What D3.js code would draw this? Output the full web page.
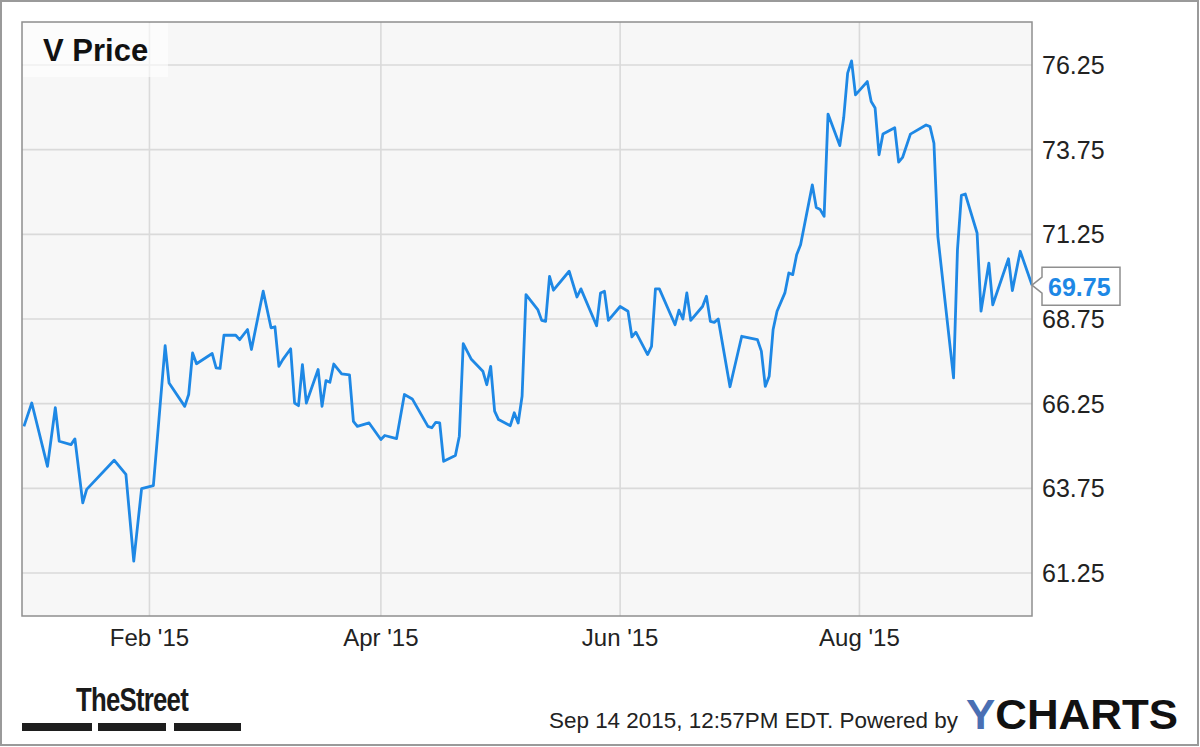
<!DOCTYPE html>
<html><head><meta charset="utf-8">
<script src="https://cdn.jsdelivr.net/npm/d3@7"></script>
<style>html,body{margin:0;padding:0;background:#fff;} svg{display:block;font-family:"Liberation Sans",Arial,Helvetica,sans-serif;}</style>
</head><body><svg id="c" width="1200" height="747"></svg>
<script>
const dates = ["2014-12-31","2015-01-02","2015-01-06","2015-01-08","2015-01-09","2015-01-12","2015-01-13","2015-01-15","2015-01-16","2015-01-23","2015-01-26","2015-01-28","2015-01-30",
"2015-02-02","2015-02-05","2015-02-06","2015-02-10","2015-02-11","2015-02-12","2015-02-13","2015-02-17","2015-02-18","2015-02-19","2015-02-20","2015-02-23","2015-02-24","2015-02-26","2015-02-27",
"2015-03-02","2015-03-04","2015-03-05","2015-03-06","2015-03-07","2015-03-09","2015-03-10","2015-03-11","2015-03-12","2015-03-13","2015-03-16","2015-03-17","2015-03-18","2015-03-19","2015-03-20","2015-03-22","2015-03-24","2015-03-25","2015-03-26","2015-03-29",
"2015-04-01","2015-04-02","2015-04-05","2015-04-07","2015-04-09","2015-04-13","2015-04-14","2015-04-15","2015-04-16","2015-04-17","2015-04-20","2015-04-21","2015-04-22","2015-04-24","2015-04-27","2015-04-28","2015-04-29","2015-04-30",
"2015-05-01","2015-05-04","2015-05-05","2015-05-06","2015-05-07","2015-05-08","2015-05-11","2015-05-12","2015-05-13","2015-05-14","2015-05-15","2015-05-19","2015-05-21","2015-05-22","2015-05-26","2015-05-27","2015-05-28","2015-05-29",
"2015-06-01","2015-06-03","2015-06-04","2015-06-05","2015-06-08","2015-06-09","2015-06-10","2015-06-11","2015-06-15","2015-06-16","2015-06-17","2015-06-18","2015-06-19","2015-06-22","2015-06-23","2015-06-24","2015-06-25","2015-06-26","2015-06-29",
"2015-07-02","2015-07-06","2015-07-07","2015-07-08","2015-07-09","2015-07-10","2015-07-11","2015-07-13","2015-07-14","2015-07-15","2015-07-16","2015-07-17","2015-07-20","2015-07-21","2015-07-22","2015-07-23","2015-07-24","2015-07-27","2015-07-28","2015-07-29","2015-07-30","2015-07-31",
"2015-08-03","2015-08-04","2015-08-05","2015-08-06","2015-08-07","2015-08-10","2015-08-11","2015-08-12","2015-08-14","2015-08-18","2015-08-19","2015-08-20","2015-08-21","2015-08-25","2015-08-26","2015-08-27","2015-08-28","2015-08-31",
"2015-09-01","2015-09-03","2015-09-04","2015-09-08","2015-09-09","2015-09-11","2015-09-14"];
const prices = [65.58,66.27,64.40,66.13,65.14,65.04,65.21,63.32,63.72,64.58,64.16,61.60,63.74,
63.83,67.96,66.86,66.17,66.52,67.75,67.43,67.73,67.31,67.29,68.27,68.27,68.14,68.44,67.85,
69.57,68.49,68.52,67.35,67.55,67.87,66.27,66.19,67.40,66.27,67.26,66.17,66.93,66.88,67.42,67.13,67.10,65.73,65.58,65.68,
65.19,65.31,65.22,66.52,66.39,65.58,65.54,65.70,65.68,64.55,64.72,65.29,68.02,67.57,67.21,66.81,67.35,66.03,
65.78,65.60,65.98,65.68,66.47,69.47,69.03,68.71,68.68,70.01,69.60,70.16,69.40,69.64,68.55,69.52,69.57,68.71,
69.12,68.98,68.22,68.36,67.70,67.94,69.64,69.64,68.58,69.01,68.75,69.52,68.71,69.12,69.42,68.68,68.65,68.75,66.75,
68.24,68.14,67.80,66.76,67.06,68.44,68.98,69.52,70.11,70.06,70.65,70.94,72.71,72.04,71.98,71.78,74.80,73.87,74.70,76.01,76.37,75.37,
75.76,75.17,74.98,73.60,74.21,74.40,73.38,73.52,74.21,74.48,74.43,73.94,71.19,67.01,70.80,72.40,72.44,71.29,
68.98,70.40,69.17,70.53,69.59,70.75,69.75];
const yTicks = [61.25, 63.75, 66.25, 68.75, 71.25, 73.75, 76.25];
const xTickDates = ["2015-02-01","2015-04-01","2015-06-01","2015-08-01"];
const xTickLabels = ["Feb '15","Apr '15","Jun '15","Aug '15"];
const xDomain = ["2014-12-30","2015-09-14"];
const yDomain = [59.98, 77.52];
const titleText = "V Price";
const lastLabel = "69.75";
const footerText = "Sep 14 2015, 12:57PM EDT.  Powered by";

const parse = d3.timeParse("%Y-%m-%d");
const data = dates.map((d,i)=>({date:parse(d), value:prices[i]}));

const L=22, R=1032, T=22, B=616;
const svg = d3.select("#c");
const x = d3.scaleTime().domain(xDomain.map(parse)).range([20, 1032]);
const y = d3.scaleLinear().domain(yDomain).range([B, T]);

// outer border
svg.append("rect").attr("x",1).attr("y",1).attr("width",1197).attr("height",744)
  .attr("fill","#fff").attr("stroke","#9a9a9a").attr("stroke-width",2);

// plot background
svg.append("rect").attr("x",L).attr("y",T).attr("width",R-L).attr("height",B-T).attr("fill","#f7f7f7");

// gridlines
svg.append("g").selectAll("line").data(yTicks).join("line")
  .attr("x1",L).attr("x2",R).attr("y1",d=>y(d)).attr("y2",d=>y(d))
  .attr("stroke","#dadada").attr("stroke-width",1.6);
svg.append("g").selectAll("line").data(xTickDates).join("line")
  .attr("x1",d=>x(parse(d))).attr("x2",d=>x(parse(d))).attr("y1",T).attr("y2",B)
  .attr("stroke","#dadada").attr("stroke-width",1.6);

// clip
svg.append("clipPath").attr("id","clip").append("rect").attr("x",L).attr("y",T).attr("width",R-L).attr("height",B-T);

// line
const line = d3.line().x(d=>x(d.date)).y(d=>y(d.value));
svg.append("path").datum(data).attr("clip-path","url(#clip)").attr("d",line)
  .attr("fill","none").attr("stroke","#1e88e5").attr("stroke-width",2.8).attr("stroke-linejoin","round");

// plot border
svg.append("rect").attr("x",L).attr("y",T).attr("width",R-L).attr("height",B-T)
  .attr("fill","none").attr("stroke","#8f8f8f").attr("stroke-width",1.5);

// title box
svg.append("rect").attr("x",L+1).attr("y",T+1).attr("width",145).attr("height",54)
  .attr("fill","#ffffff").attr("fill-opacity",0.6);
svg.append("text").attr("x",43).attr("y",61).attr("font-size",31).attr("font-weight","bold")
  .attr("fill","#111").text(titleText);

// y axis labels
svg.append("g").selectAll("text").data(yTicks).join("text")
  .attr("x",1042).attr("y",d=>y(d)+9).attr("font-size",25).attr("fill","#222")
  .text(d=>d3.format(".2f")(d));

// x axis labels
svg.append("g").selectAll("text").data(xTickDates).join("text")
  .attr("x",d=>x(parse(d))).attr("y",646).attr("text-anchor","middle").attr("font-size",24).attr("fill","#222")
  .text((d,i)=>xTickLabels[i]);

// last value label
const last = data[data.length-1];
const ly = y(last.value);
svg.append("path")
  .attr("d",`M${R},${ly} L1042,${ly-8} L1042,${ly-18} L1120,${ly-18} L1120,${ly+20} L1042,${ly+20} L1042,${ly+8} Z`)
  .attr("fill","#fff").attr("stroke","#8f8f8f").attr("stroke-width",1.5);
svg.append("text").attr("x",1048).attr("y",ly+11).attr("font-size",25).attr("font-weight","bold")
  .attr("fill","#1e88e5").text(lastLabel);

// TheStreet logo
svg.append("text").attr("x",76).attr("y",711).attr("font-size",34).attr("font-weight","bold")
  .attr("fill","#1a1a1a").attr("textLength",112).attr("lengthAdjust","spacingAndGlyphs").attr("letter-spacing",-1)
  .text("TheStreet");
[[22,70],[98,68],[174,67]].forEach(b=>{
  svg.append("rect").attr("x",b[0]).attr("y",723).attr("width",b[1]).attr("height",8).attr("fill","#1e1e1e");
});

// footer
svg.append("text").attr("x",549).attr("y",728).attr("font-size",22).attr("fill","#222")
  .attr("textLength",409).attr("lengthAdjust","spacingAndGlyphs").text(footerText);
const yc = svg.append("text").attr("x",966).attr("y",729).attr("font-size",43).attr("font-weight","bold")
  .attr("textLength",212).attr("lengthAdjust","spacingAndGlyphs");
yc.append("tspan").attr("fill","#4a6fb3").text("Y");
yc.append("tspan").attr("fill","#111").text("CHARTS");
</script></body></html>
